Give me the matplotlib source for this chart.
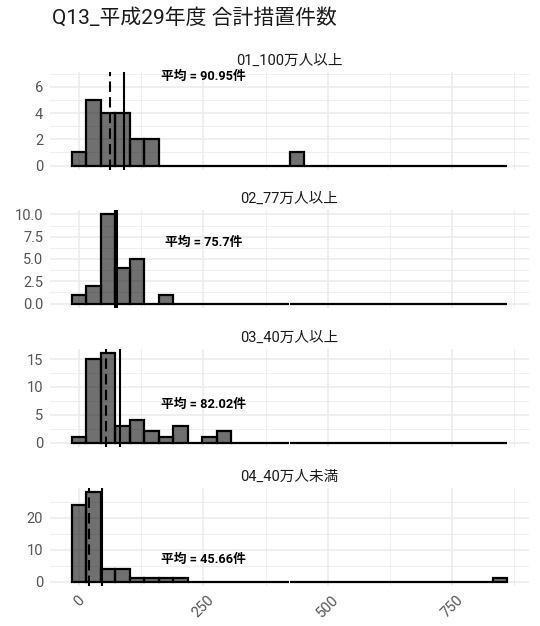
import numpy as np
import matplotlib.pyplot as plt

plt.rcParams['font.family'] = ['Roboto', 'Noto Sans CJK JP', 'DejaVu Sans']

title = "Q13_平成29年度 合計措置件数"
groups = ["01_100万人以上", "02_77万人以上", "03_40万人以上", "04_40万人未満"]

# histogram range shared by all facets (30 bins, centred on min and max)
data_min = 0
data_max = 846
n_bins = 30

counts_01 = [1, 5, 4, 4, 2, 2, 0, 0, 0, 0, 0, 0, 0, 0, 0, 1, 0, 0, 0, 0, 0, 0, 0, 0, 0, 0, 0, 0, 0, 0]
counts_02 = [1, 2, 10, 4, 5, 0, 1, 0, 0, 0, 0, 0, 0, 0, 0, 0, 0, 0, 0, 0, 0, 0, 0, 0, 0, 0, 0, 0, 0, 0]
counts_03 = [1, 15, 16, 3, 4, 2, 1, 3, 0, 1, 2, 0, 0, 0, 0, 0, 0, 0, 0, 0, 0, 0, 0, 0, 0, 0, 0, 0, 0, 0]
counts_04 = [24, 28, 4, 4, 1, 1, 1, 1, 0, 0, 0, 0, 0, 0, 0, 0, 0, 0, 0, 0, 0, 0, 0, 0, 0, 0, 0, 0, 0, 1]
counts = [counts_01, counts_02, counts_03, counts_04]

means = [90.95, 75.7, 82.02, 45.66]
medians = [62, 72, 54, 21]
mean_labels = ["平均 = 90.95件", "平均 = 75.7件", "平均 = 82.02件", "平均 = 45.66件"]
label_x = 250
label_y = 6.8

y_major = [[0, 2, 4, 6], [0, 2.5, 5, 7.5, 10], [0, 5, 10, 15], [0, 10, 20]]
y_labels = [["0", "2", "4", "6"], ["0.0", "2.5", "5.0", "7.5", "10.0"],
            ["0", "5", "10", "15"], ["0", "10", "20"]]
x_major = [0, 250, 500, 750]
x_minor = [125, 375, 625, 875]

W, H = 540, 626
fig = plt.figure(figsize=(W / 100, H / 100), dpi=100)
fig.text(52 / W, 1 - 18 / H, title, fontsize=15, color="#1a1a1a", ha="left", va="center")

width = (data_max - data_min) / (n_bins - 1)
edges = data_min - width / 2 + width * np.arange(n_bins + 1)
centers = (edges[:-1] + edges[1:]) / 2
xlim = (edges[0] - 0.05 * (edges[-1] - edges[0]), edges[-1] + 0.05 * (edges[-1] - edges[0]))

left, right = 50, 529
tops = [72, 210, 349, 488]
ph = 98

for i, g in enumerate(groups):
    ax = fig.add_axes([left / W, 1 - (tops[i] + ph) / H, (right - left) / W, ph / H])
    c = np.array(counts[i])
    top = max(c.max(), label_y)
    pad = 0.05 * top
    ax.set_ylim(-pad, top + pad)
    ax.set_xlim(*xlim)

    # grid like theme_minimal
    for v in x_major:
        ax.axvline(v, color="#ebebeb", lw=1.1, zorder=0)
    for v in x_minor:
        ax.axvline(v, color="#ebebeb", lw=0.55, zorder=0)
    yt = y_major[i]
    step = yt[1] - yt[0]
    for v in yt:
        ax.axhline(v, color="#ebebeb", lw=1.1, zorder=0)
    m = yt[0] + step / 2
    while m < top + pad:
        ax.axhline(m, color="#ebebeb", lw=0.55, zorder=0)
        m += step

    ax.bar(centers, c, width=width, facecolor=(0, 0, 0, 0.56), edgecolor="black",
           linewidth=1.6, zorder=2)
    ax.axvline(means[i], color="black", lw=1.5, zorder=3)
    ax.axvline(medians[i], color="black", lw=1.5, ls=(0, (5, 2.5)), zorder=3)
    ax.text(label_x, label_y, mean_labels[i], ha="center", va="center",
            fontsize=9.2, fontweight="bold", color="black", zorder=4)

    ax.set_title(g, fontsize=10.5, color="#1a1a1a", pad=5)
    ax.set_yticks(yt)
    ax.set_yticklabels(y_labels[i], fontsize=10.5, color="#555555")
    ax.set_xticks(x_major)
    if i == len(groups) - 1:
        ax.set_xticklabels([str(v) for v in x_major], fontsize=10.5, color="#555555",
                           rotation=45, ha="center", va="top")
    else:
        ax.set_xticklabels([])
    ax.tick_params(length=0, pad=5)
    for s in ax.spines.values():
        s.set_visible(False)

fig.savefig("out.png", dpi=100)
